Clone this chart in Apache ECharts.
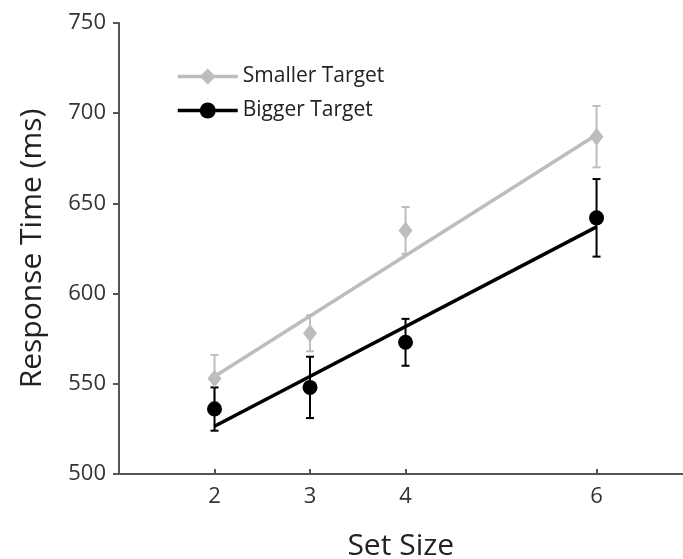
<!DOCTYPE html>
<html>
<head>
<meta charset="utf-8">
<script src="https://cdn.jsdelivr.net/npm/echarts@6/dist/echarts.min.js"></script>
<style>html,body{margin:0;padding:0;background:#fff;}#c{width:683px;height:559px;}</style>
</head>
<body>
<div id="c"></div>
<script>
const setSizes = [2, 3, 4, 6];
const xTicks = [2, 3, 4, 6];
const yTicks = [500, 550, 600, 650, 700, 750];
const smallerMean = [553, 578, 635, 687];
const smallerErr = [13, 10, 13, 17];
const biggerMean = [536, 548, 573, 642];
const biggerErr = [12, 17, 13, 21.5];
const smallerFit = [[2, 554], [6, 688]];
const biggerFit = [[2, 526.5], [6, 637]];

const GRAY = '#bdbdbd';
const BLACK = '#000000';
const FONT = 'Open Sans';

function errData(means, errs) {
  return setSizes.map((x, i) => [x, means[i] - errs[i], means[i] + errs[i]]);
}
function errSeries(means, errs, color) {
  return {
    type: 'custom',
    silent: true,
    data: errData(means, errs),
    encode: { x: 0, y: [1, 2] },
    renderItem: function (params, api) {
      const lo = api.coord([api.value(0), api.value(1)]);
      const hi = api.coord([api.value(0), api.value(2)]);
      const w = 4;
      const st = { stroke: color, lineWidth: 2 };
      return {
        type: 'group',
        children: [
          { type: 'line', shape: { x1: lo[0], y1: lo[1], x2: hi[0], y2: hi[1] }, style: st },
          { type: 'line', shape: { x1: lo[0] - w, y1: lo[1], x2: lo[0] + w, y2: lo[1] }, style: st },
          { type: 'line', shape: { x1: hi[0] - w, y1: hi[1], x2: hi[0] + w, y2: hi[1] }, style: st }
        ]
      };
    },
    z: 3
  };
}

const chart = echarts.init(document.getElementById('c'), null, { renderer: 'canvas' });
chart.setOption({
  animation: false,
  grid: { left: 119, right: 0.5, top: 23, bottom: 85, containLabel: false, outerBoundsMode: 'none' },
  textStyle: { fontFamily: FONT },
  legend: {
    orient: 'vertical',
    left: 176,
    top: 66,
    padding: 0,
    itemWidth: 60,
    itemHeight: 20,
    itemGap: 13,
    textStyle: { fontFamily: FONT, fontSize: 21, color: '#222' },
    data: [
      { name: 'Smaller Target', lineStyle: { color: GRAY, width: 3.5, opacity: 1 } },
      { name: 'Bigger Target', lineStyle: { color: BLACK, width: 3.5, opacity: 1 } }
    ]
  },
  xAxis: {
    type: 'value',
    min: 1,
    max: 6.9,
    name: 'Set Size',
    nameLocation: 'middle',
    nameGap: 57,
    nameTextStyle: { fontFamily: FONT, fontSize: 30, color: '#222' },
    splitLine: { show: false },
    axisLine: { show: true, lineStyle: { color: '#555', width: 2 } },
    axisTick: { show: true, inside: true, length: 5, customValues: xTicks, lineStyle: { color: '#555', width: 2 } },
    axisLabel: { customValues: xTicks, fontFamily: FONT, fontSize: 22, color: '#333', margin: 12 }
  },
  yAxis: {
    type: 'value',
    min: 500,
    max: 750,
    interval: 50,
    name: 'Response Time (ms)',
    nameLocation: 'middle',
    nameGap: 72,
    nameTextStyle: { fontFamily: FONT, fontSize: 30, color: '#222' },
    splitLine: { show: false },
    axisLine: { show: true, lineStyle: { color: '#555', width: 2 } },
    axisTick: { show: true, inside: false, length: 6, lineStyle: { color: '#555', width: 2 } },
    axisLabel: { fontFamily: FONT, fontSize: 22, color: '#333', margin: 13 }
  },
  series: [
    { type: 'line', data: smallerFit, symbol: 'none', lineStyle: { color: GRAY, width: 3.5 }, z: 2, silent: true },
    errSeries(smallerMean, smallerErr, GRAY),
    {
      name: 'Smaller Target', type: 'line',
      data: setSizes.map((x, i) => [x, smallerMean[i]]),
      symbol: 'diamond', symbolSize: [14, 18],
      itemStyle: { color: GRAY },
      lineStyle: { width: 0, opacity: 0 }, z: 4
    },
    { type: 'line', data: biggerFit, symbol: 'none', lineStyle: { color: BLACK, width: 3.5 }, z: 5, silent: true },
    errSeries(biggerMean, biggerErr, BLACK),
    {
      name: 'Bigger Target', type: 'line',
      data: setSizes.map((x, i) => [x, biggerMean[i]]),
      symbol: 'circle', symbolSize: 15,
      itemStyle: { color: BLACK },
      lineStyle: { width: 0, opacity: 0 }, z: 7
    }
  ]
});
</script>
</body>
</html>
